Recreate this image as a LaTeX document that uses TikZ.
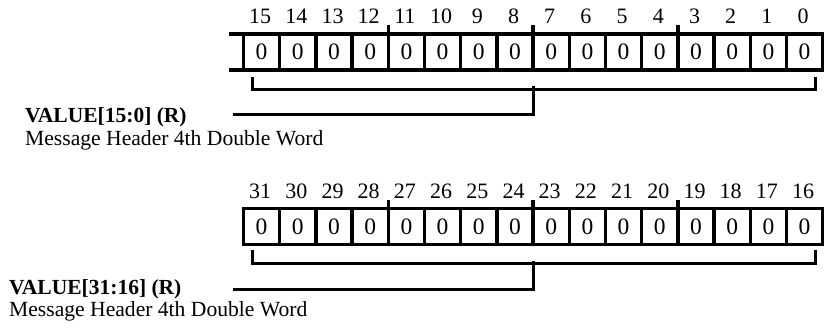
\documentclass[tikz,border=0pt]{standalone}
\usepackage{fontspec}
\setmainfont{Liberation Serif}
\begin{document}
\begin{tikzpicture}[x=1pt,y=-1pt,
  cell/.style={draw, line width=3.4pt, minimum width=36.2pt, minimum height=36pt, inner sep=0pt, outer sep=0pt, font=\fontsize{23.5}{23.5}\selectfont, anchor=center},
  bitlbl/.style={font=\fontsize{22}{22}\selectfont, anchor=base, inner sep=0pt},
  reg/.style={line width=3.4pt},
  brk/.style={line width=3pt},
  ttl/.style={font=\fontsize{21.5}{24}\selectfont\bfseries, anchor=base west, inner sep=0pt},
  sub/.style={font=\fontsize{21.6}{24}\selectfont, anchor=base west, inner sep=0pt}]
\useasboundingbox (0,0) rectangle (825,330);
% ---- top register: bits 15..0
\foreach \i in {0,...,15} {
  \pgfmathsetmacro\cx{243.5+36.2*\i+18.1}
  \pgfmathtruncatemacro\b{15-\i}
  \node[cell] (a\i) at (\cx,52) {0};
  \node[bitlbl] (la\i) at (\cx-1.5,23) {\b};
}
\foreach \k in {4,8,12} \draw[reg] (a\k.north west) -- ++(0,-9);
\coordinate (extT) at (229,34);
\coordinate (extB) at (229,70);
\draw[reg] (extT) -- (a0.north west);
\draw[reg] (extB) -- (a0.south west);
\coordinate (abl) at (252,77);
\coordinate (abr) at (815,77);
\coordinate (abm) at (533,89);
\coordinate (abt) at (533,86);
\coordinate (aend) at (233,114);
\draw[brk] (abl) |- (abm) -| (abr);
\draw[brk] (abt) -- (533,114) -- (aend);
\node[ttl] (t1) at (25,122.5) {VALUE[15:0] (R)};
\node[sub] (s1) at (25,145) {Message Header 4th Double Word};
% ---- bottom register: bits 31..16
\foreach \i in {0,...,15} {
  \pgfmathsetmacro\cx{243.5+36.2*\i+18.1}
  \pgfmathtruncatemacro\b{31-\i}
  \node[cell] (b\i) at (\cx,226.5) {0};
  \node[bitlbl] (lb\i) at (\cx-1.5,198.5) {\b};
}
\foreach \k in {4,8,12} \draw[reg] (b\k.north west) -- ++(0,-9);
\coordinate (bbl) at (252,250);
\coordinate (bbr) at (815,250);
\coordinate (bbm) at (533,263);
\coordinate (bbt) at (533,261);
\coordinate (bend) at (233,289);
\draw[brk] (bbl) |- (bbm) -| (bbr);
\draw[brk] (bbt) -- (533,289) -- (bend);
\node[ttl] (t2) at (9,294) {VALUE[31:16] (R)};
\node[sub] (s2) at (9,316) {Message Header 4th Double Word};
\end{tikzpicture}
\end{document}
